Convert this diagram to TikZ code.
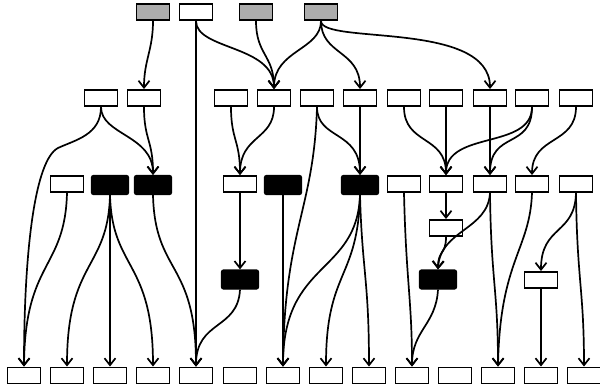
\documentclass[tikz,border=0pt]{standalone}
\usetikzlibrary{arrows.meta}
\begin{document}
\begin{tikzpicture}[x=1pt,y=-1pt,
  wbox/.style={draw,line width=1.9pt,fill=white,minimum width=33pt,minimum height=16pt,inner sep=0pt},
  gbox/.style={wbox,fill=gray!65},
  bbox/.style={draw,line width=1.2pt,fill=black,rounded corners=2pt,minimum width=37pt,minimum height=19pt,inner sep=0pt},
  edge/.style={line width=1.7pt,-{Straight Barb[length=7pt,width=11pt,line width=1.7pt]}}]
\useasboundingbox[fill=white] (0,0) rectangle (600,391);
% top row
\node[gbox] (T1) at (153,12) {};
\node[wbox] (T2) at (196,12) {};
\node[gbox] (T3) at (256,12) {};
\node[gbox] (T4) at (321,12) {};
% row 2
\node[wbox] (A1) at (101,98) {};
\node[wbox] (A2) at (144,98) {};
\node[wbox] (A3) at (231,98) {};
\node[wbox] (A4) at (274,98) {};
\node[wbox] (A5) at (317,98) {};
\node[wbox] (A6) at (360,98) {};
\node[wbox] (A7) at (404,98) {};
\node[wbox] (A8) at (446,98) {};
\node[wbox] (A9) at (490,98) {};
\node[wbox] (A10) at (532,98) {};
\node[wbox] (A11) at (576,98) {};
% row 3
\node[wbox] (B1) at (67,184) {};
\node[bbox] (B2) at (110,185) {};
\node[bbox] (B3) at (153,185) {};
\node[wbox] (B4) at (240,184) {};
\node[bbox] (B5) at (283,185) {};
\node[bbox] (B6) at (360,185) {};
\node[wbox] (B7) at (404,184) {};
\node[wbox] (B8) at (446,184) {};
\node[wbox] (B9) at (490,184) {};
\node[wbox] (B10) at (532,184) {};
\node[wbox] (B11) at (576,184) {};
% middle
\node[wbox] (C1) at (446,228) {};
\node[bbox] (D1) at (240,279.5) {};
\node[bbox] (D2) at (438,279.5) {};
\node[wbox] (D3) at (541,280) {};
% bottom row
\node[wbox] (E1) at (24,375.5) {};
\node[wbox] (E2) at (67,375.5) {};
\node[wbox] (E3) at (110,375.5) {};
\node[wbox] (E4) at (153,375.5) {};
\node[wbox] (E5) at (196,375.5) {};
\node[wbox] (E6) at (240,375.5) {};
\node[wbox] (E7) at (283,375.5) {};
\node[wbox] (E8) at (326,375.5) {};
\node[wbox] (E9) at (369,375.5) {};
\node[wbox] (E10) at (412,375.5) {};
\node[wbox] (E11) at (455,375.5) {};
\node[wbox] (E12) at (498,375.5) {};
\node[wbox] (E13) at (541,375.5) {};
\node[wbox] (E14) at (584,375.5) {};
% edges from top
\draw[edge] (T1.south) .. controls (153,50) and (144,60) .. (A2.north);
\draw[edge] (T2.south) .. controls (196,50) and (274,45) .. (A4.north);
\draw[edge] (T2.south) -- (E5.north);
\draw[edge] (T3.south) .. controls (256,55) and (274,55) .. (A4.north);
\draw[edge] (T4.south) .. controls (321,50) and (274,50) .. (A4.north);
\draw[edge] (T4.south) .. controls (321,55) and (360,50) .. (A6.north);
\draw[edge] (T4.south) .. controls (321,45) and (490,20) .. (A9.north);
% edges from row 2
\draw[edge] (A1.south) .. controls (101,135) and (75,140) .. (58,148) .. controls (35,160) and (24,250) .. (E1.north);
\draw[edge] (A1.south) .. controls (101,135) and (153,135) .. (B3.north);
\draw[edge] (A2.south) .. controls (144,140) and (153,140) .. (B3.north);
\draw[edge] (A3.south) .. controls (231,140) and (240,140) .. (B4.north);
\draw[edge] (A4.south) .. controls (274,140) and (240,135) .. (B4.north);
\draw[edge] (A5.south) .. controls (314,210) and (284,230) .. (E7.north);
\draw[edge] (A5.south) .. controls (317,140) and (360,130) .. (B6.north);
\draw[edge] (A6.south) -- (B6.north);
\draw[edge] (A7.south) .. controls (404,145) and (446,135) .. (B8.north);
\draw[edge] (A8.south) -- (B8.north);
\draw[edge] (A10.south) .. controls (532,150) and (446,130) .. (B8.north);
\draw[edge] (A9.south) -- (B9.north);
\draw[edge] (A10.south) .. controls (532,150) and (490,130) .. (B9.north);
\draw[edge] (A11.south) .. controls (576,145) and (532,135) .. (B10.north);
% edges from row 3
\draw[edge] (B1.south) .. controls (65,270) and (25,260) .. (E1.north);
\draw[edge] (B2.south) .. controls (108,270) and (67,260) .. (E2.north);
\draw[edge] (B2.south) -- (E3.north);
\draw[edge] (B2.south) .. controls (112,270) and (153,260) .. (E4.north);
\draw[edge] (B3.south) .. controls (155,275) and (196,260) .. (E5.north);
\draw[edge] (B4.south) -- (D1.north);
\draw[edge] (D1.south) .. controls (238,330) and (196,320) .. (E5.north);
\draw[edge] (B5.south) -- (E7.north);
\draw[edge] (B6.south) .. controls (357,275) and (283,260) .. (E7.north);
\draw[edge] (B6.south) .. controls (358,280) and (326,270) .. (E8.north);
\draw[edge] (B6.south) .. controls (362,270) and (369,280) .. (E9.north);
\draw[edge] (B7.south) .. controls (406,280) and (412,300) .. (E10.north);
\draw[edge] (B8.south) -- (C1.north);
\draw[edge] (C1.south) .. controls (446,255) and (438,250) .. (D2.north);
\draw[edge] (B9.south) .. controls (488,230) and (440,230) .. (D2.north);
\draw[edge] (D2.south) .. controls (436,325) and (412,330) .. (E10.north);
\draw[edge] (B9.south) .. controls (491,280) and (498,290) .. (E12.north);
\draw[edge] (B10.south) .. controls (530,250) and (500,260) .. (E12.north);
\draw[edge] (B11.south) .. controls (575,235) and (541,225) .. (D3.north);
\draw[edge] (D3.south) -- (E13.north);
\draw[edge] (B11.south) .. controls (577,280) and (584,290) .. (E14.north);
\end{tikzpicture}
\end{document}
